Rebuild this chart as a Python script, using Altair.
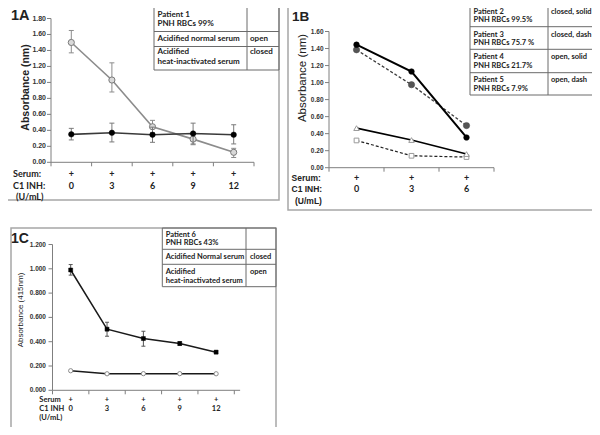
import altair as alt
import pandas as pd

# ---------------- data ----------------
doses_A = [0, 3, 6, 9, 12]
A_open_mean = [1.50, 1.03, 0.445, 0.29, 0.125]
A_open_lo = [1.37, 0.88, 0.37, 0.22, 0.06]
A_open_hi = [1.65, 1.245, 0.525, 0.35, 0.175]
A_closed_mean = [0.35, 0.37, 0.345, 0.36, 0.345]
A_closed_lo = [0.28, 0.255, 0.25, 0.23, 0.23]
A_closed_hi = [0.425, 0.49, 0.44, 0.49, 0.47]

doses_B = [0, 3, 6]
B_p2 = [1.445, 1.13, 0.355]
B_p3 = [1.385, 0.975, 0.495]
B_p4 = [0.465, 0.325, 0.16]
B_p5 = [0.32, 0.14, 0.125]

doses_C = [0, 3, 6, 9, 12]
C_closed_mean = [0.99, 0.503, 0.426, 0.385, 0.314]
C_closed_lo = [0.948, 0.445, 0.363, 0.370, 0.302]
C_closed_hi = [1.035, 0.560, 0.486, 0.400, 0.326]
C_open_mean = [0.161, 0.136, 0.137, 0.137, 0.136]

yticks_A = [0.0, 0.2, 0.4, 0.6, 0.8, 1.0, 1.2, 1.4, 1.6, 1.8]
yticks_B = [0.0, 0.2, 0.4, 0.6, 0.8, 1.0, 1.2, 1.4, 1.6]
yticks_C = [0.0, 0.2, 0.4, 0.6, 0.8, 1.0, 1.2]

# ---------------- helpers ----------------
OFF = 8
W, H = 584, 419
ARIAL = "Liberation Sans"
CALI = "Lato"


def px(v):
    return v - OFF


def one():
    return alt.Chart(alt.Data(values=[{}]))


def T(s, x, y, size, font=CALI, weight="bold", align="left", color="#222222",
      angle=0, baseline="middle"):
    kw = dict(text=s, align=align, baseline=baseline, fontSize=size, font=font,
              fontWeight=weight, color=color)
    if angle:
        kw["angle"] = angle
    return one().mark_text(**kw).encode(x=alt.value(px(x)), y=alt.value(px(y)))


def Box(x0, y0, x1, y1, stroke, sw):
    return one().mark_rect(fill="transparent", stroke=stroke, strokeWidth=sw).encode(
        x=alt.value(px(x0)), x2=alt.value(px(x1)), y=alt.value(px(y0)), y2=alt.value(px(y1)))


def Seg(x0, y0, x1, y1, color, sw):
    return one().mark_rule(color=color, strokeWidth=sw).encode(
        x=alt.value(px(x0)), x2=alt.value(px(x1)), y=alt.value(px(y0)), y2=alt.value(px(y1)))


def scales(n, x0, x1, ymax, ybot, ytop):
    xs = alt.Scale(domain=[-0.5, n - 0.5], range=[px(x0), px(x1)], nice=False, zero=False)
    ys = alt.Scale(domain=[0, ymax], range=[px(ybot), px(ytop)], nice=False, zero=False)
    return xs, ys


def axes(xs, ys, n, yticks, fmt, ax_x, ax_y, xend, label_x, fsize, lab_font, lab_weight):
    out = []
    col = "#7f7f7f"
    out.append(alt.Chart(pd.DataFrame({"a": [yticks[0]], "b": [yticks[-1]]})).mark_rule(
        color=col, strokeWidth=1).encode(
        x=alt.value(px(ax_x)), y=alt.Y("a:Q", scale=ys, axis=None), y2="b:Q"))
    tdf = pd.DataFrame({"v": yticks})
    out.append(alt.Chart(tdf).mark_rule(color=col, strokeWidth=1).encode(
        x=alt.value(px(ax_x - 4)), x2=alt.value(px(ax_x)),
        y=alt.Y("v:Q", scale=ys, axis=None)))
    out.append(alt.Chart(tdf).mark_text(align="right", baseline="middle", fontSize=fsize,
                                        font=lab_font, fontWeight=lab_weight,
                                        color="#333333").encode(
        x=alt.value(px(label_x)), y=alt.Y("v:Q", scale=ys, axis=None),
        text=alt.Text("v:Q", format=fmt)))
    bounds = [i - 0.5 for i in range(n + 1)]
    out.append(alt.Chart(pd.DataFrame({"a": [-0.5], "b": [xend]})).mark_rule(
        color=col, strokeWidth=1).encode(
        y=alt.value(px(ax_y)), x=alt.X("a:Q", scale=xs, axis=None), x2="b:Q"))
    out.append(alt.Chart(pd.DataFrame({"v": bounds})).mark_rule(color=col, strokeWidth=1).encode(
        x=alt.X("v:Q", scale=xs, axis=None), y=alt.value(px(ax_y)), y2=alt.value(px(ax_y + 4))))
    return out


def series(mean, xs, ys, line_kw, point_kw, lo=None, hi=None, err_color="#808080",
           cap=2.5):
    n = len(mean)
    d = {"i": list(range(n)), "m": mean}
    if lo is not None:
        d["lo"] = lo
        d["hi"] = hi
    df = pd.DataFrame(d)
    xe = alt.X("i:Q", scale=xs, axis=None)
    out = [alt.Chart(df).mark_line(**line_kw).encode(x=xe, y=alt.Y("m:Q", scale=ys, axis=None))]
    if lo is not None:
        out.append(alt.Chart(df).mark_rule(color=err_color, strokeWidth=1).encode(
            x=xe, y=alt.Y("lo:Q", scale=ys, axis=None), y2="hi:Q"))
        for f in ("lo", "hi"):
            out.append(alt.Chart(df).mark_rule(color=err_color, strokeWidth=1,
                                               xOffset=-cap, x2Offset=cap).encode(
                x=xe, x2="i:Q", y=alt.Y(f + ":Q", scale=ys, axis=None)))
    out.append(alt.Chart(df).mark_point(**point_kw).encode(
        x=xe, y=alt.Y("m:Q", scale=ys, axis=None)))
    return out


def cat_labels(xs, doses, y_plus, y_num, size, font=CALI):
    df = pd.DataFrame({"i": list(range(len(doses))), "d": [str(v) for v in doses],
                       "p": ["+"] * len(doses)})
    xe = alt.X("i:Q", scale=xs, axis=None)
    return [
        alt.Chart(df).mark_text(fontSize=size, font=font, fontWeight="bold", color="#222222",
                                baseline="middle").encode(x=xe, y=alt.value(px(y_plus)), text="p:N"),
        alt.Chart(df).mark_text(fontSize=size, font=font, fontWeight="bold", color="#222222",
                                baseline="middle").encode(x=xe, y=alt.value(px(y_num)), text="d:N"),
    ]


layers = []
FRAME = "#a6a6a6"
TAB = "#6b6b6b"

# ================= Panel 1A =================
xsA, ysA = scales(5, 51, 254, 1.8, 162.3, 18.5)
layers.append(Box(5, 4, 279, 200, FRAME, 1.5))
layers += axes(xsA, ysA, 5, yticks_A, ".2f", 51, 162.3, 4.5, 46, 7, ARIAL, "bold")
layers += series(A_open_mean, xsA, ysA,
                 dict(color="#8c8c8c", strokeWidth=1.6),
                 dict(shape="circle", filled=True, fill="#d9d9d9", stroke="#7a7a7a",
                      strokeWidth=1, size=38, opacity=1),
                 A_open_lo, A_open_hi, err_color="#8c8c8c")
layers += series(A_closed_mean, xsA, ysA,
                 dict(color="#3a3a3a", strokeWidth=1.6),
                 dict(shape="circle", filled=True, fill="#000000", stroke="#000000",
                      strokeWidth=0.5, size=30, opacity=1),
                 A_closed_lo, A_closed_hi, err_color="#7a7a7a")
layers.append(T("1A", 11, 20, 14.5, font=ARIAL, baseline="alphabetic"))
layers.append(T("Absorbance (nm)", 26, 87.5, 10.5, font=ARIAL, align="center", angle=270))
layers.append(T("Serum:", 13, 174.3, 9))
layers.append(T("C1 INH:", 13, 185.7, 9))
layers.append(T("(U/mL)", 16, 196.7, 9))
layers += cat_labels(xsA, doses_A, 174.3, 185.7, 9)
# legend table 1A
layers.append(Box(154, 4, 279, 70, TAB, 1))
layers.append(Seg(154, 31.5, 279, 31.5, TAB, 1))
layers.append(Seg(154, 46.5, 279, 46.5, TAB, 1))
layers.append(Seg(247, 4, 247, 70, TAB, 1))
layers.append(T("Patient 1", 157.5, 14.5, 8))
layers.append(T("PNH RBCs 99%", 157.5, 24, 8))
layers.append(T("Acidified normal serum", 157.5, 38.5, 8))
layers.append(T("open", 250, 38.5, 8))
layers.append(T("Acidified", 157.5, 52, 8))
layers.append(T("closed", 250, 52, 8))
layers.append(T("heat-inactivated serum", 157.5, 62, 8))

# ================= Panel 1B =================
xsB, ysB = scales(3, 329, 494, 1.6, 167.7, 31.5)
layers.append(Box(288, 4, 598, 210, FRAME, 1.5))
layers += axes(xsB, ysB, 3, yticks_B, ".2f", 329, 167.7, 2.5, 323.5, 6.5, ARIAL, "bold")
layers += series(B_p3, xsB, ysB,
                 dict(color="#3c3c3c", strokeWidth=1.3, strokeDash=[3, 2]),
                 dict(shape="circle", filled=True, fill="#555555", stroke="#444444",
                      strokeWidth=0.5, size=40, opacity=1))
layers += series(B_p2, xsB, ysB,
                 dict(color="#000000", strokeWidth=2),
                 dict(shape="circle", filled=True, fill="#000000", stroke="#000000",
                      strokeWidth=0.5, size=32, opacity=1))
layers += series(B_p5, xsB, ysB,
                 dict(color="#222222", strokeWidth=1.2, strokeDash=[3, 2]),
                 dict(shape="square", filled=True, fill="#ffffff", stroke="#9a9a9a",
                      strokeWidth=1, size=22, opacity=1))
layers += series(B_p4, xsB, ysB,
                 dict(color="#000000", strokeWidth=1.6),
                 dict(shape="triangle-up", filled=True, fill="#ffffff", stroke="#9a9a9a",
                      strokeWidth=1, size=30, opacity=1))
layers.append(T("1B", 292, 21, 13.5, font=ARIAL, baseline="alphabetic"))
layers.append(T("Absorbance (nm)", 303, 78, 11.5, font=ARIAL, weight="normal",
                align="center", angle=270))
layers.append(T("Serum:", 291.5, 178.3, 8.5, font=ARIAL))
layers.append(T("C1 INH:", 291.5, 189, 8.5, font=ARIAL))
layers.append(T("(U/mL)", 295, 201, 8.5, font=ARIAL))
layers += cat_labels(xsB, doses_B, 178.3, 189, 9)
# legend table 1B
layers.append(Box(470, 4, 598, 95, TAB, 1))
for yy in (26.7, 49.3, 72.7):
    layers.append(Seg(470, yy, 598, yy, TAB, 1))
layers.append(Seg(548, 4, 548, 95, TAB, 1))
rowsB = [("Patient 2", "PNH RBCs 99.5%", "closed, solid"),
         ("Patient 3", "PNH RBCs 75.7 %", "closed, dash"),
         ("Patient 4", "PNH RBCs 21.7%", "open, solid"),
         ("Patient 5", "PNH RBCs 7.9%", "open, dash")]
for k, (a, b, c) in enumerate(rowsB):
    y1 = 11.7 + k * 22.8
    layers.append(T(a, 473.5, y1, 7.5))
    layers.append(T(b, 473.5, y1 + 8.5, 7.5))
    layers.append(T(c, 551, y1, 7.5))

# ================= Panel 1C =================
xsC, ysC = scales(5, 52.5, 234.3, 1.2, 390.3, 244.5)
layers.append(Box(11, 228, 276, 432, FRAME, 1.5))
layers += axes(xsC, ysC, 5, yticks_C, ".3f", 52.5, 390.3, 4.66, 46, 6.5, ARIAL, "bold")
layers += series(C_open_mean, xsC, ysC,
                 dict(color="#1a1a1a", strokeWidth=1.5),
                 dict(shape="circle", filled=True, fill="#ffffff", stroke="#8a8a8a",
                      strokeWidth=1, size=18, opacity=1))
layers += series(C_closed_mean, xsC, ysC,
                 dict(color="#1a1a1a", strokeWidth=1.5),
                 dict(shape="square", filled=True, fill="#000000", stroke="#000000",
                      strokeWidth=0.5, size=16, opacity=1),
                 C_closed_lo, C_closed_hi, err_color="#555555", cap=2)
layers.append(T("1C", 11, 243, 14, font=ARIAL, baseline="alphabetic"))
layers.append(T("Absorbance (415nm)", 20.5, 310, 8, font=ARIAL, weight="normal",
                align="center", angle=270))
layers.append(T("Serum", 39.3, 400, 7.5))
layers.append(T("C1 INH", 39.3, 409.3, 7.5))
layers.append(T("(U/mL)", 39.3, 418.3, 7.5))
layers += cat_labels(xsC, doses_C, 400, 409.3, 7.5)
# legend table 1C
layers.append(Box(162.3, 228, 276, 286.7, TAB, 1))
layers.append(Seg(162.3, 249.3, 276, 249.3, TAB, 1))
layers.append(Seg(162.3, 264.3, 276, 264.3, TAB, 1))
layers.append(Seg(246, 228, 246, 286.7, TAB, 1))
layers.append(T("Patient 6", 165.7, 235, 7.5))
layers.append(T("PNH RBCs 43%", 165.7, 243.3, 7.5))
layers.append(T("Acidified Normal serum", 165.7, 256.7, 7.5))
layers.append(T("closed", 250, 256.7, 7.5))
layers.append(T("Acidified", 165.7, 271.7, 7.5))
layers.append(T("open", 250, 271.7, 7.5))
layers.append(T("heat-inactivated  serum", 165.7, 280.7, 7.5))

chart = alt.layer(*layers).resolve_scale(x="independent", y="independent").properties(
    width=W, height=H, padding=0, autosize=alt.AutoSizeParams(type="none"),
    background="white",
).configure_view(strokeWidth=0)

chart.save("out.html", embed_options={"renderer": "svg", "actions": False})
